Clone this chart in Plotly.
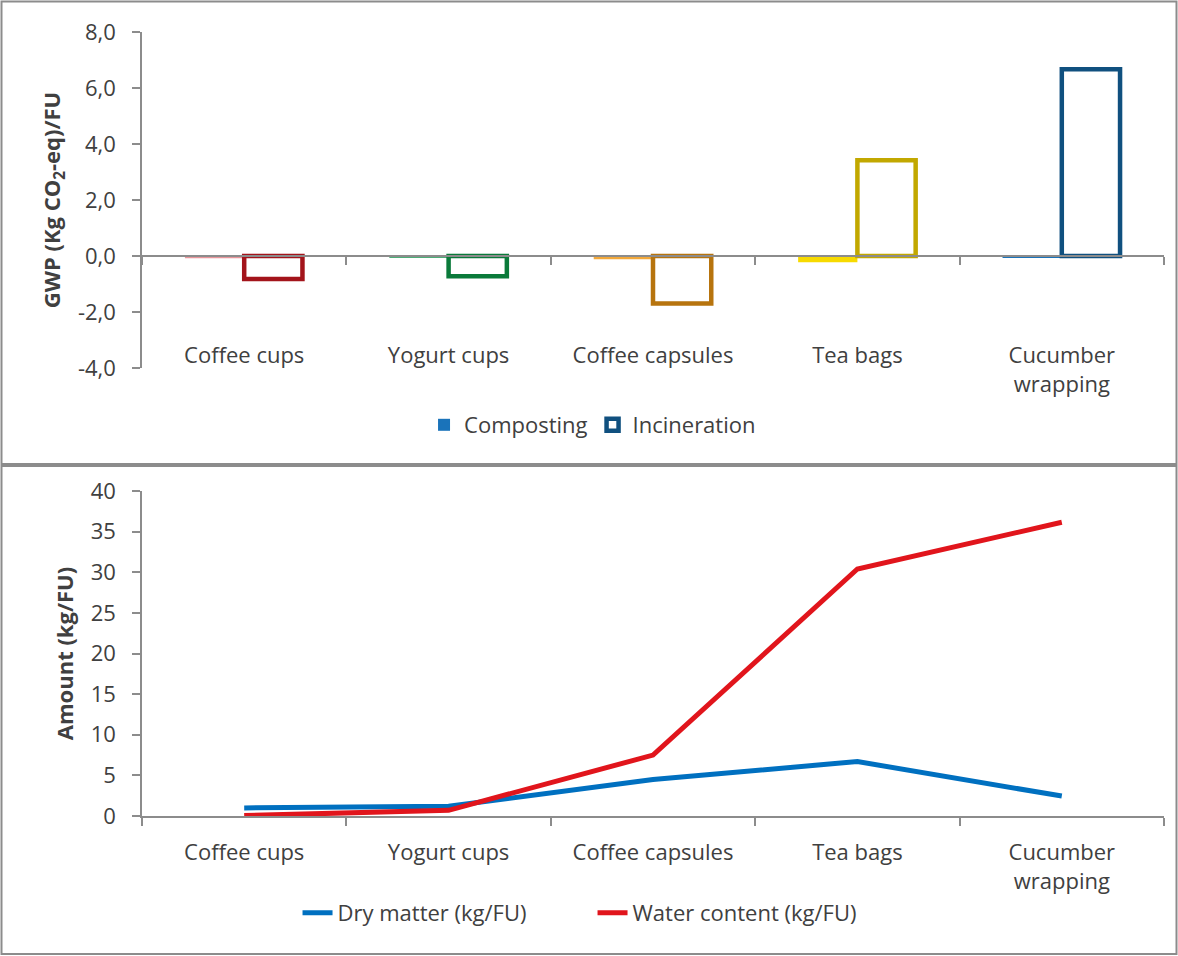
import plotly.graph_objects as go

# ---- data -------------------------------------------------------------
categories = ["Coffee cups", "Yogurt cups", "Coffee capsules", "Tea bags", "Cucumber wrapping"]
category_labels = ["Coffee cups", "Yogurt cups", "Coffee capsules", "Tea bags", "Cucumber<br>wrapping"]

# GWP per functional unit (kg CO2-eq/FU)
gwp_composting = [-0.08, -0.05, -0.12, -0.22, -0.05]
gwp_incineration = [-0.82, -0.72, -1.70, 3.42, 6.67]
gwp_ticks = [-4, -2, 0, 2, 4, 6, 8]
gwp_tick_labels = [f"{v:.1f}".replace(".", ",") for v in gwp_ticks]

# Amounts per functional unit (kg/FU)
dry_matter = [1.0, 1.2, 4.5, 6.7, 2.45]
water_content = [0.05, 0.7, 7.5, 30.4, 36.15]

# ---- styling ----------------------------------------------------------
compost_colors = ["#E8959A", "#4DAE78", "#F2A83A", "#F7DA00", "#1A73BA"]
incin_colors = ["#A3141B", "#0A7A3A", "#B7740E", "#C2A800", "#10507F"]
dry_color = "#0070C0"
water_color = "#E1151C"
axis_gray = "#8C8C8C"
text_color = "#404040"
FONT = "Open Sans"

W, H = 1178, 956


def fx(px):
    return px / W


def fy(px):
    return 1 - px / H


x_domain = [fx(142), fx(1164)]
top_y_domain = [fy(368), fy(32)]
bot_y_domain = [fy(816), fy(491)]
gwp_range = [-4, 8]
zero_pos = top_y_domain[0] + (0 - gwp_range[0]) / (gwp_range[1] - gwp_range[0]) * (top_y_domain[1] - top_y_domain[0])

fig = go.Figure()

# ---- top panel: GWP bars ---------------------------------------------
last = len(categories) - 1
for i, cat in enumerate(categories):
    fig.add_trace(go.Bar(
        x=[cat], y=[gwp_composting[i]], xaxis="x", yaxis="y",
        offset=-0.29, width=0.29,
        marker=dict(color=compost_colors[i], line=dict(width=0)),
        name="Composting", legend="legend", legendrank=1,
        showlegend=(i == last), hoverinfo="skip",
    ))
    fig.add_trace(go.Bar(
        x=[cat], y=[gwp_incineration[i]], xaxis="x", yaxis="y",
        offset=0.0, width=0.285,
        marker=dict(color="white", line=dict(color=incin_colors[i], width=4.5)),
        name="Incineration", legend="legend", legendrank=2,
        showlegend=(i == last), hoverinfo="skip",
    ))

# ---- bottom panel: amounts -------------------------------------------
fig.add_trace(go.Scatter(
    x=categories, y=dry_matter, xaxis="x2", yaxis="y2", mode="lines",
    line=dict(color=dry_color, width=5), name="Dry matter (kg/FU)",
    legend="legend2", hoverinfo="skip",
))
fig.add_trace(go.Scatter(
    x=categories, y=water_content, xaxis="x2", yaxis="y2", mode="lines",
    line=dict(color=water_color, width=5), name="Water content (kg/FU)",
    legend="legend2", hoverinfo="skip",
))

tick_font = dict(family=FONT, size=22, color=text_color)
title_font = dict(family=FONT, size=22, color=text_color)
axis_common = dict(
    showline=True, linecolor=axis_gray, linewidth=1.5,
    ticks="outside", ticklen=8, tickcolor=axis_gray, tickwidth=1.5,
    showgrid=False, zeroline=False, tickfont=tick_font, automargin=False,
)

fig.update_layout(
    width=W, height=H,
    margin=dict(l=0, r=0, t=0, b=0, autoexpand=False),
    paper_bgcolor="white", plot_bgcolor="white",
    separators=",.",
    barmode="overlay",
    font=dict(family=FONT, size=22, color=text_color),
    # top x axis: line along zero, ticks on category boundaries,
    # labels pushed down to the foot of the panel
    xaxis=dict(
        domain=x_domain, type="category", categoryarray=categories,
        range=[-0.5, len(categories) - 0.5],
        anchor="free", position=zero_pos,
        tickson="boundaries",
        tickmode="array", tickvals=categories, ticktext=category_labels,
        ticklabelstandoff=80,
        **axis_common,
    ),
    yaxis=dict(
        domain=top_y_domain, anchor="x", range=gwp_range,
        tickmode="array", tickvals=gwp_ticks, ticktext=gwp_tick_labels,
        ticklabelstandoff=12,
        title=dict(text="<b>GWP (Kg CO<sub>2</sub>-eq)/FU</b>", font=title_font, standoff=11),
        **axis_common,
    ),
    xaxis2=dict(
        domain=x_domain, type="category", categoryarray=categories,
        range=[-0.5, len(categories) - 0.5], anchor="y2",
        tickson="boundaries",
        tickmode="array", tickvals=categories, ticktext=category_labels,
        ticklabelstandoff=16,
        **axis_common,
    ),
    yaxis2=dict(
        domain=bot_y_domain, anchor="x2", range=[0, 40], dtick=5,
        ticklabelstandoff=12,
        title=dict(text="<b>Amount (kg/FU)</b>", font=title_font, standoff=11),
        **axis_common,
    ),
    legend=dict(
        orientation="h", x=0.503, xanchor="center", y=fy(425), yanchor="middle",
        font=dict(family=FONT, size=22, color=text_color), bgcolor="rgba(0,0,0,0)",
        traceorder="normal",
    ),
    legend2=dict(
        orientation="h", x=0.503, xanchor="center", y=fy(913), yanchor="middle",
        font=dict(family=FONT, size=22, color=text_color), bgcolor="rgba(0,0,0,0)",
        entrywidth=250, entrywidthmode="pixels",
    ),
    shapes=[
        dict(type="rect", xref="paper", yref="paper",
             x0=fx(1.5), x1=fx(1176.5), y0=fy(464), y1=fy(1.5),
             line=dict(color=axis_gray, width=2), fillcolor="rgba(0,0,0,0)", layer="below"),
        dict(type="rect", xref="paper", yref="paper",
             x0=fx(1.5), x1=fx(1176.5), y0=fy(954), y1=fy(466),
             line=dict(color=axis_gray, width=2), fillcolor="rgba(0,0,0,0)", layer="below"),
    ],
)

fig.write_html("out.html")
